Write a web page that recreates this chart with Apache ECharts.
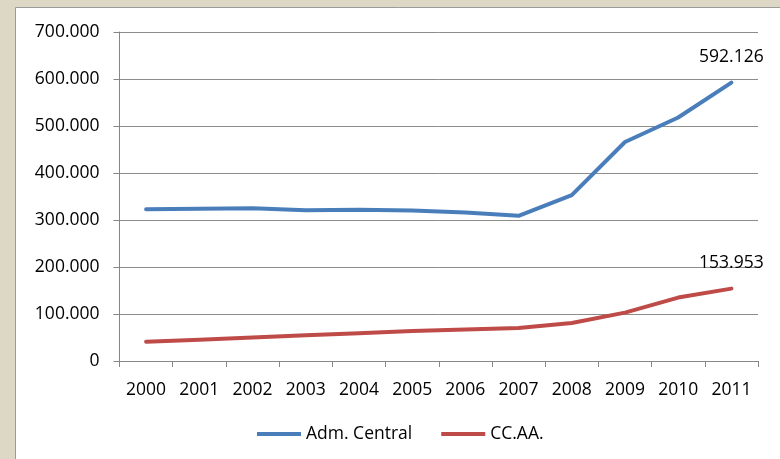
<!DOCTYPE html>
<html>
<head>
<meta charset="utf-8">
<script src="https://cdn.jsdelivr.net/npm/echarts@6/dist/echarts.min.js"></script>
<style>html,body{margin:0;padding:0;background:#ddd8c5;}#c{width:780px;height:459px;}</style>
</head>
<body>
<div id="c"></div>
<script>
var years = ['2000','2001','2002','2003','2004','2005','2006','2007','2008','2009','2010','2011'];
var admCentral = [323, 324, 325, 321, 322, 320, 316, 309, 353, 466, 518, 592.126];
var ccaa = [41, 45, 50, 55, 59, 64, 67, 70, 81, 103, 135, 153.953];
var seriesNames = ['Adm. Central', 'CC.AA.'];

function fmt(v) {
  if (v === 0) return '0';
  return v.toFixed(3);
}
var font = 'Open Sans';
var fs = 17.5;
var chart = echarts.init(document.getElementById('c'), null, {renderer: 'canvas'});
function endLabel(arr) {
  return arr.map(function (v, i) {
    if (i === arr.length - 1) {
      return {value: v, label: {show: true, position: 'top', distance: 17, formatter: function (p) { return fmt(p.value); }, color: '#000', fontFamily: font, fontSize: fs}};
    }
    return v;
  });
}
chart.setOption({
  backgroundColor: '#ddd8c5',
  animation: false,
  graphic: [{
    type: 'rect', shape: {x: 15.5, y: 7.5, width: 800, height: 500},
    style: {fill: '#ffffff', stroke: '#9a9a9a', lineWidth: 1}, z: -10, silent: true
  }],
  grid: {left: 119.5, right: 22, top: 32, bottom: 98},
  xAxis: {
    type: 'category', data: years, boundaryGap: true,
    axisLine: {lineStyle: {color: '#868686', width: 1}},
    axisTick: {show: true, length: 6, lineStyle: {color: '#868686'}},
    axisLabel: {color: '#000', fontFamily: font, fontSize: fs, margin: 20}
  },
  yAxis: {
    type: 'value', min: 0, max: 700, interval: 100,
    axisLine: {show: true, lineStyle: {color: '#868686', width: 1}},
    axisTick: {show: true, length: 6, lineStyle: {color: '#868686'}},
    splitLine: {lineStyle: {color: '#8c8c8c', width: 1}},
    axisLabel: {color: '#000', fontFamily: font, fontSize: fs, margin: 20, formatter: function (v) { return fmt(v); }}
  },
  legend: {
    bottom: 11, left: 252, icon: 'rect', itemWidth: 44, itemHeight: 4, itemGap: 29,
    textStyle: {color: '#000', fontFamily: font, fontSize: fs},
    data: seriesNames
  },
  series: [
    {name: seriesNames[0], type: 'line', data: endLabel(admCentral), showSymbol: true, symbol: 'circle', symbolSize: 0,
     lineStyle: {color: '#4a7ebb', width: 4, cap: 'round', join: 'round'}, itemStyle: {color: '#4a7ebb'}},
    {name: seriesNames[1], type: 'line', data: endLabel(ccaa), showSymbol: true, symbol: 'circle', symbolSize: 0,
     lineStyle: {color: '#be4b48', width: 4, cap: 'round', join: 'round'}, itemStyle: {color: '#be4b48'}}
  ]
});
</script>
</body>
</html>
